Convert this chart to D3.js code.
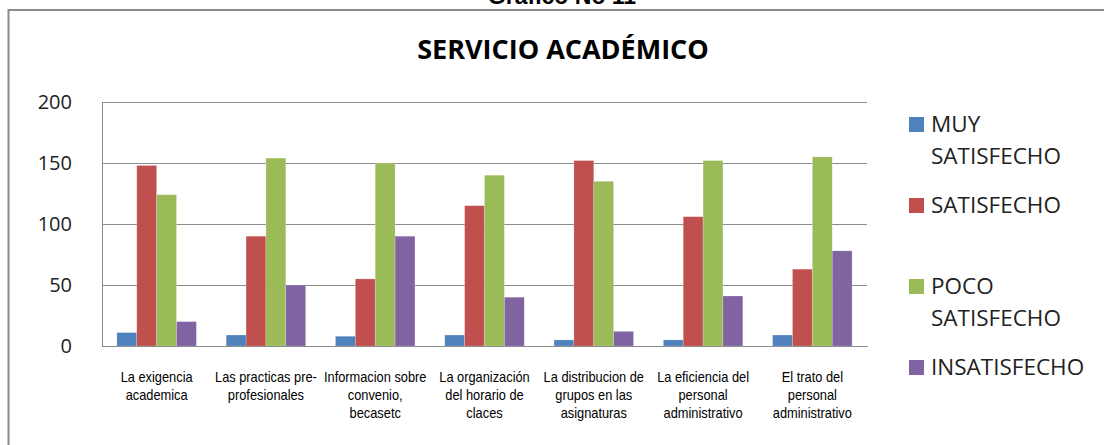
<!DOCTYPE html>
<html>
<head>
<meta charset="utf-8">
<script src="https://cdn.jsdelivr.net/npm/d3@7"></script>
<style>
  html, body { margin: 0; padding: 0; background: #fff; }
  svg { display: block; }
</style>
</head>
<body>
<div id="chart"></div>
<script>
// ---- data ----
const categories = [
  "La exigencia academica",
  "Las practicas pre-profesionales",
  "Informacion sobre convenio, becasetc",
  "La organización del horario de claces",
  "La distribucion de grupos en las asignaturas",
  "La eficiencia del personal administrativo",
  "El trato del personal administrativo"
];
const categoryLines = [
  ["La exigencia", "academica"],
  ["Las practicas pre-", "profesionales"],
  ["Informacion sobre", "convenio,", "becasetc"],
  ["La organización", "del horario de", "claces"],
  ["La distribucion de", "grupos en las", "asignaturas"],
  ["La eficiencia del", "personal", "administrativo"],
  ["El trato del", "personal", "administrativo"]
];
const seriesNames = ["MUY SATISFECHO", "SATISFECHO", "POCO SATISFECHO", "INSATISFECHO"];
const legendLines = [["MUY", "SATISFECHO"], ["SATISFECHO"], ["POCO", "SATISFECHO"], ["INSATISFECHO"]];
const muySatisfecho  = [11, 9, 8, 9, 5, 5, 9];
const satisfecho     = [148, 90, 55, 115, 152, 106, 63];
const pocoSatisfecho = [124, 154, 150, 140, 135, 152, 155];
const insatisfecho   = [20, 50, 90, 40, 12, 41, 78];
const yTicks = [0, 50, 100, 150, 200];
const colors = ["#4F81BD", "#C0504D", "#9BBB59", "#8064A2"];
const title = "SERVICIO ACADÉMICO";
const caption = "Gráfico No 11";

// ---- chart ----
const W = 1104, H = 445;
const svg = d3.select("#chart").append("svg").attr("width", W).attr("height", H);

const seriesValues = [muySatisfecho, satisfecho, pocoSatisfecho, insatisfecho];
const rows = categories.map((c, i) => ({ cat: c, i, vals: seriesValues.map(s => s[i]) }));

const plot = { left: 102, right: 867, top: 102, bottom: 346 };

const x0 = d3.scaleBand().domain(categories).range([plot.left, plot.right])
  .paddingInner(0.2727).paddingOuter(0.13636);
const x1 = d3.scaleBand().domain(d3.range(seriesNames.length)).range([0, x0.bandwidth()]).padding(0);
const y = d3.scaleLinear().domain([0, 200]).range([plot.bottom, plot.top]);

// outer frame (only top and left visible)
svg.append("line").attr("x1", 8).attr("x2", W).attr("y1", 10).attr("y2", 10)
  .attr("stroke", "#8a8a8a").attr("stroke-width", 2);
svg.append("line").attr("x1", 8.5).attr("x2", 8.5).attr("y1", 9).attr("y2", H)
  .attr("stroke", "#8a8a8a").attr("stroke-width", 2);

// caption (cut off at top, as in the source)
svg.append("text").attr("x", 562).attr("y", 4).attr("text-anchor", "middle")
  .style("font-family", "Liberation Sans, Arial, sans-serif").style("font-weight", "bold")
  .style("font-size", "23px").text(caption);

// title
svg.append("text").attr("x", 563).attr("y", 59).attr("text-anchor", "middle")
  .style("font-family", "Open Sans, Noto Sans, sans-serif").style("font-weight", "bold")
  .style("font-size", "27px").attr("fill", "#000").text(title);

// gridlines
const grid = svg.append("g")
  .attr("transform", `translate(${plot.left},0)`)
  .call(d3.axisLeft(y).tickValues(yTicks).tickSize(-(plot.right - plot.left)).tickFormat(""));
grid.select(".domain").remove();
grid.selectAll("line").attr("stroke", "#8c8c8c").attr("stroke-width", 1).attr("shape-rendering", "crispEdges");

// y axis labels
const yAxis = svg.append("g")
  .attr("transform", `translate(${plot.left},0)`)
  .call(d3.axisLeft(y).tickValues(yTicks).tickSize(0).tickPadding(30));
yAxis.select(".domain").attr("stroke", "#8c8c8c").attr("shape-rendering", "crispEdges");
yAxis.selectAll("text")
  .style("font-family", "Open Sans, Noto Sans, sans-serif").style("font-size", "20px").attr("fill", "#222");

// bars
const groups = svg.append("g").selectAll("g").data(rows).join("g")
  .attr("transform", d => `translate(${x0(d.cat)},0)`);
groups.selectAll("rect").data(d => d.vals.map((v, k) => ({ v, k }))).join("rect")
  .attr("x", d => x1(d.k))
  .attr("width", x1.bandwidth())
  .attr("y", d => y(d.v))
  .attr("height", d => y(0) - y(d.v))
  .attr("fill", d => colors[d.k])
  .attr("stroke", "rgba(255,255,255,0.35)").attr("stroke-width", 0.6);

// x axis
const xAxis = svg.append("g")
  .attr("transform", `translate(0,${plot.bottom})`)
  .call(d3.axisBottom(x0).tickSize(0).tickFormat(""));
xAxis.select(".domain").attr("stroke", "#8c8c8c").attr("shape-rendering", "crispEdges");
const labelFont = "Liberation Sans, Arial, sans-serif";
// condensed look: measure a reference line and squeeze horizontally
const probe = svg.append("text").style("font-family", labelFont).style("font-size", "14px").text("Las practicas pre-");
const squeeze = 102 / probe.node().getComputedTextLength();
probe.remove();
xAxis.selectAll(".tick").each(function(d, i) {
  const t = d3.select(this).select("text")
    .attr("y", 0).attr("dy", null)
    .attr("transform", `scale(${squeeze},1)`)
    .style("font-family", labelFont)
    .style("font-size", "14px").attr("fill", "#000").attr("text-anchor", "middle");
  t.selectAll("tspan").data(categoryLines[i]).join("tspan")
    .attr("x", 0).attr("y", (l, j) => 36 + j * 18).text(l => l);
});

// legend
const legend = svg.append("g");
legendLines.forEach((lines, i) => {
  const base = 132 + i * 81;
  legend.append("rect").attr("x", 909).attr("y", base - 15).attr("width", 15).attr("height", 15)
    .attr("fill", colors[i]);
  const t = legend.append("text")
    .style("font-family", "Open Sans, Noto Sans, sans-serif").style("font-size", "22.5px").attr("fill", "#222");
  t.selectAll("tspan").data(lines).join("tspan")
    .attr("x", 931).attr("y", (l, j) => base + j * 32).text(l => l);
});
</script>
</body>
</html>
